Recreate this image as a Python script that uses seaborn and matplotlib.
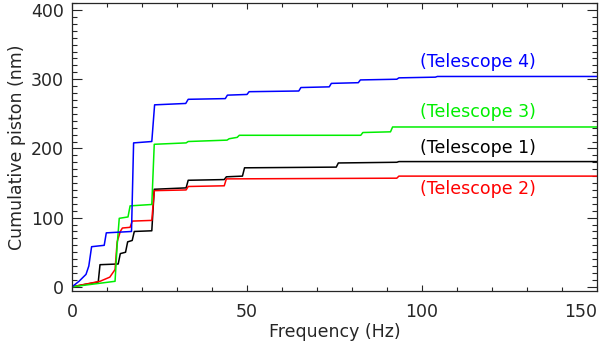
import matplotlib
matplotlib.use("Agg")
import matplotlib.pyplot as plt
import seaborn as sns
import pandas as pd
from matplotlib.ticker import MultipleLocator

# 累积 piston 曲线 (频率 Hz, 累积值 nm)
freq_t1 = [0, 7.5, 8.0, 13.2, 13.8, 15.3, 15.9, 17.2, 17.8, 22.8, 23.5, 32.6, 33.2,
           43.5, 44.1, 48.7, 49.3, 75.5, 76.1, 92.8, 93.4, 150]
piston_t1 = [0, 7, 32, 33, 48, 50, 65, 67, 80, 81, 141, 143, 154,
             155, 159, 160, 172, 173, 179, 180, 181, 181]

freq_t2 = [0, 8, 10.8, 12.3, 12.9, 13.8, 14.4, 16.6, 17.2, 22.8, 23.5, 32.6, 33.2,
           43.5, 44.1, 92.8, 93.4, 150]
piston_t2 = [0, 8, 14, 25, 65, 80, 85, 86, 95, 96, 139, 140, 145,
             146, 156, 157, 160, 160]

freq_t3 = [0, 12.3, 12.9, 13.5, 16.0, 16.6, 22.8, 23.5, 32.6, 33.2, 44.3, 44.9,
           47.2, 47.8, 82.5, 83.1, 91.0, 91.6, 150]
piston_t3 = [0, 8, 60, 99, 101, 117, 119, 206, 208, 210, 212, 214,
             216, 219, 219, 223, 224, 231, 231]

freq_t4 = [0, 2, 4, 4.8, 5.6, 9.2, 9.8, 17.0, 17.6, 22.8, 23.6, 32.5, 33.2, 43.8,
           44.4, 50.0, 50.6, 64.8, 65.4, 73.5, 74.1, 81.8, 82.4, 92.8, 93.4,
           103.8, 104.4, 150]
piston_t4 = [0, 8, 18, 30, 58, 60, 78, 80, 208, 210, 263, 265, 271, 272,
             277, 278, 282, 283, 288, 289, 294, 295, 299, 300, 302, 303, 304, 304]

names = ["Telescope 1", "Telescope 2", "Telescope 3", "Telescope 4"]
colors = ["black", "#ff0000", "#00ee00", "#0000ff"]
label_y = [201, 141, 253, 325]
x_ticks = [0, 50, 100, 150]
y_ticks = [0, 100, 200, 300, 400]

sns.set_style("ticks")
plt.rcParams['font.family'] = ['DejaVu Sans']
fs = 12.5

frames = []
for name, f, p in zip(names, [freq_t1, freq_t2, freq_t3, freq_t4],
                      [piston_t1, piston_t2, piston_t3, piston_t4]):
    frames.append(pd.DataFrame({"freq": f, "piston": p, "tel": name}))
df = pd.concat(frames, ignore_index=True)

fig = plt.figure(figsize=(6, 3.46), dpi=100)
ax = fig.add_axes([0.12, 0.159, 0.875, 0.832])

sns.lineplot(data=df, x="freq", y="piston", hue="tel", hue_order=names,
             palette=colors, sort=False, estimator=None, legend=False,
             linewidth=1.1, ax=ax)

for name, c, y in zip(names, colors, label_y):
    ax.text(116, y, f"({name})", color=c, ha="center", va="center", fontsize=fs)

ax.set_xlim(0, 150)
ax.set_ylim(-6, 410)
ax.set_xticks(x_ticks, [str(v) for v in x_ticks])
ax.set_yticks(y_ticks, [str(v) for v in y_ticks])
ax.xaxis.set_minor_locator(MultipleLocator(10))
ax.yaxis.set_minor_locator(MultipleLocator(10))

ax.tick_params(which="both", direction="in", top=True, right=True, width=0.8,
               labelsize=fs)
ax.tick_params(axis="x", which="major", length=4.5, pad=9)
ax.tick_params(axis="x", which="minor", length=3.2)
ax.tick_params(axis="y", which="major", length=7.5, pad=6)
ax.tick_params(axis="y", which="minor", length=3.8)
for s in ax.spines.values():
    s.set_linewidth(0.9)

# 最右边的 150 向左靠，免得被裁掉
for lab in ax.get_xticklabels():
    if lab.get_text() == "150":
        lab.set_horizontalalignment("right")

ax.set_xlabel("Frequency (Hz)", fontsize=fs, labelpad=1)
ax.set_ylabel("Cumulative piston (nm)", fontsize=fs, labelpad=3)

fig.savefig("out.png", dpi=100)
